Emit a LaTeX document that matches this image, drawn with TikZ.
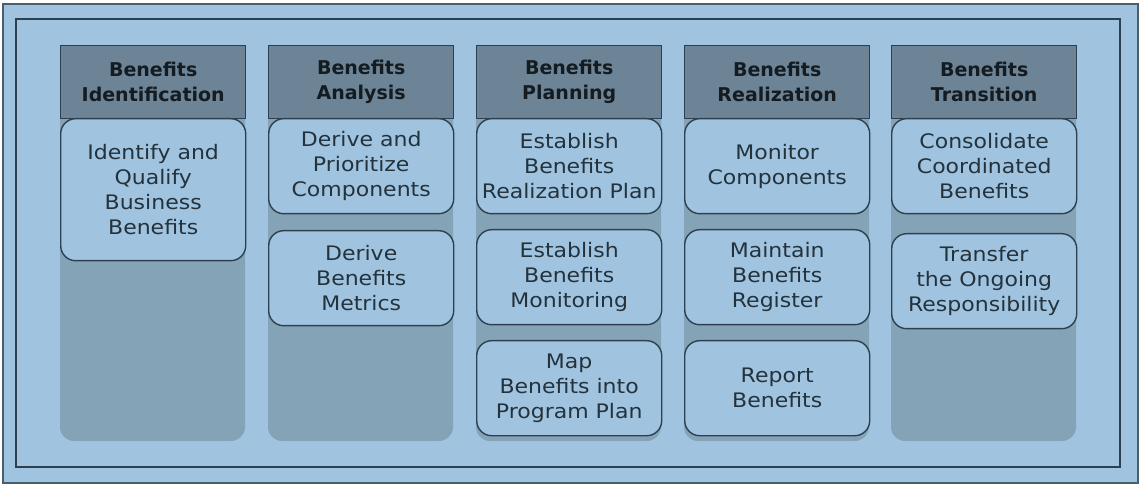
\documentclass[tikz,border=0pt]{standalone}
\usepackage{fontspec}
\setmainfont{DejaVu Sans}
\newfontfamily\bodyfont[FakeStretch=1.1]{DejaVu Sans}
\newfontfamily\headfont{DejaVu Sans}
\definecolor{bgblue}{HTML}{A0C4E0}
\definecolor{colgray}{HTML}{85A3B7}
\definecolor{headfill}{HTML}{6C8496}
\definecolor{edge}{HTML}{2E404D}
\definecolor{frame}{HTML}{4A5F6B}
\definecolor{bodytext}{HTML}{24323C}
\definecolor{headtext}{HTML}{141B21}
\tikzset{
  hdr/.style={draw=edge, line width=1.4pt, fill=headfill, minimum width=185pt, minimum height=73pt,
    inner sep=0pt, anchor=north west, align=center, text=headtext,
    font=\headfont\bfseries\fontsize{19}{25}\selectfont},
  stepbox/.style={draw=edge, line width=1.4pt, fill=bgblue, rounded corners=15pt, minimum width=185pt,
    minimum height=95pt, inner sep=0pt, anchor=north west, align=center, text=bodytext,
    font=\bodyfont\fontsize{20}{25}\selectfont},
  colbg/.style={fill=colgray, rounded corners=14pt}
}
\begin{document}
\begin{tikzpicture}[x=1pt,y=-1pt]
\useasboundingbox (0,0) rectangle (1141,486);
\fill[white] (0,0) rectangle (1141,486);
\draw[frame, line width=2.5pt, fill=bgblue] (3,4) rectangle (1138,483);
\draw[edge, line width=1.6pt] (16,19) rectangle (1120,467);
% column backgrounds
\foreach \x in {60,268,476,684,891}{
  \fill[colbg] (\x,100) rectangle (\x+185,441);
}
% column 1
\node[hdr] (h1) at (60,45) {Benefits\\Identification};
\node[stepbox, minimum height=142pt] (b11) at (60,118) {Identify and\\Qualify\\Business\\Benefits};
% column 2
\node[hdr] (h2) at (268,45) {Benefits\\Analysis};
\node[stepbox] (b21) at (268,118) {Derive and\\Prioritize\\Components};
\node[stepbox] (b22) at (268,230) {Derive\\Benefits\\Metrics};
% column 3
\node[hdr] (h3) at (476,45) {Benefits\\Planning};
\node[stepbox] (b31) at (476,118) {Establish\\Benefits\\Realization Plan};
\node[stepbox] (b32) at (476,229) {Establish\\Benefits\\Monitoring};
\node[stepbox] (b33) at (476,340) {Map\\Benefits into\\Program Plan};
% column 4
\node[hdr] (h4) at (684,45) {Benefits\\Realization};
\node[stepbox] (b41) at (684,118) {Monitor\\Components};
\node[stepbox] (b42) at (684,229) {Maintain\\Benefits\\Register};
\node[stepbox] (b43) at (684,340) {Report\\Benefits};
% column 5
\node[hdr] (h5) at (891,45) {Benefits\\Transition};
\node[stepbox] (b51) at (891,118) {Consolidate\\Coordinated\\Benefits};
\node[stepbox] (b52) at (891,233) {Transfer\\the Ongoing\\Responsibility};
\end{tikzpicture}
\end{document}
